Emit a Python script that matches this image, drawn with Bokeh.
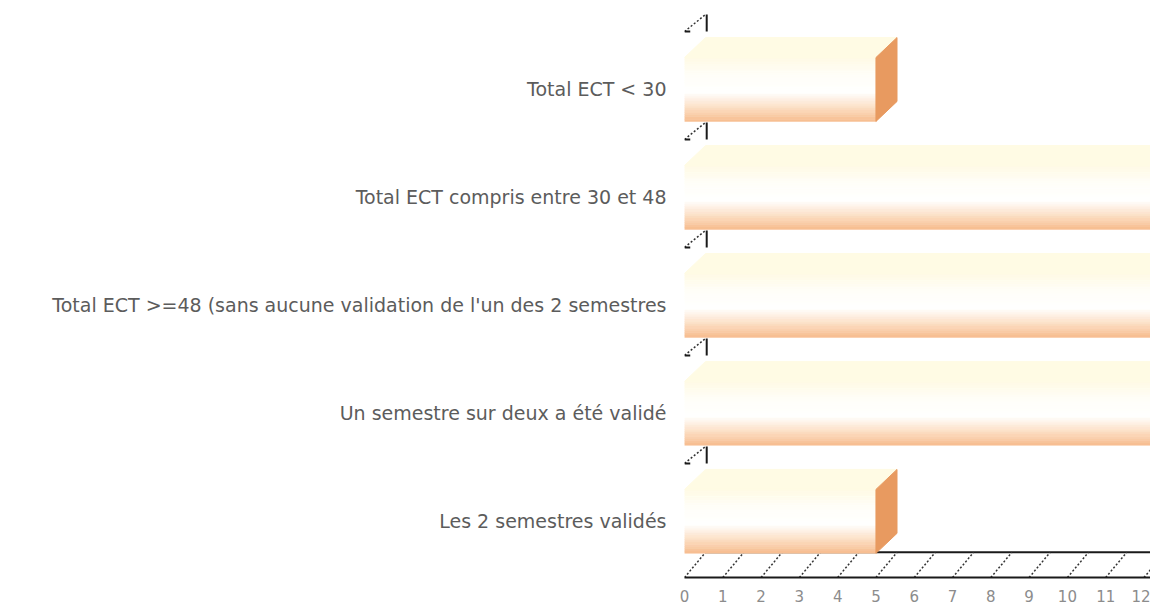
from bokeh.plotting import figure
from bokeh.models import FixedTicker
from bokeh.embed import file_html
from bokeh.resources import INLINE

# ---- data ----
categories = [
    "Les 2 semestres validés",
    "Un semestre sur deux a été validé",
    "Total ECT >=48 (sans aucune validation de l'un des 2 semestres",
    "Total ECT compris entre 30 et 48",
    "Total ECT < 30",
]
values = [5, 13, 13, 13, 5]
x_ticks = list(range(13))

# ---- style constants ----
HALF = 0.296      # half height of the bar front face (category units)
DX = 0.55         # 3D depth offset in x (value units)
DY = 0.185        # 3D depth offset in y (category units)
FLOOR_DY = 0.233
N_BANDS = 28
stops = [(0.0, (255, 250, 228)), (0.28, (255, 254, 248)), (0.55, (255, 255, 255)),
         (0.78, (252, 224, 198)), (1.0, (247, 188, 142))]


def grad(t):
    for (t0, c0), (t1, c1) in zip(stops[:-1], stops[1:]):
        if t0 <= t <= t1:
            f = (t - t0) / (t1 - t0)
            c = [int(round(a + (b - a) * f)) for a, b in zip(c0, c1)]
            return "#%02x%02x%02x" % tuple(c)
    return "#%02x%02x%02x" % stops[-1][1]


ypos = list(range(len(categories)))

p = figure(x_range=(0, 12.17), y_range=(-0.52, 4.75),
           frame_width=466, frame_height=569,
           min_border_left=684, min_border_right=0, min_border_top=8, min_border_bottom=0,
           output_backend="svg", toolbar_location=None)
p.outline_line_color = None
p.grid.visible = False
p.background_fill_color = "white"
p.border_fill_color = "white"

# x axis
p.xaxis.ticker = FixedTicker(ticks=x_ticks)
p.xaxis.major_tick_line_color = None
p.xaxis.minor_tick_line_color = None
p.xaxis.axis_line_color = "#1a1a1a"
p.xaxis.axis_line_width = 2
p.xaxis.major_label_text_font = "DejaVu Sans"
p.xaxis.major_label_text_font_size = "15px"
p.xaxis.major_label_text_color = "#8c8c8c"
p.xaxis.major_label_standoff = 6

# y axis (categories)
p.yaxis.ticker = FixedTicker(ticks=ypos)
p.yaxis.major_label_overrides = {i: c for i, c in zip(ypos, categories)}
p.yaxis.axis_line_color = None
p.yaxis.major_tick_line_color = None
p.yaxis.minor_tick_line_color = None
p.yaxis.major_label_text_font = "DejaVu Sans"
p.yaxis.major_label_text_font_size = "19px"
p.yaxis.major_label_text_color = "#5c5c5c"
p.yaxis.major_label_standoff = 12

# floor: back line and diagonal ticks
y0 = p.y_range.start
p.segment(x0=[x_ticks[0] + DX], y0=[y0 + FLOOR_DY], x1=[x_ticks[-1] + 1], y1=[y0 + FLOOR_DY],
          line_color="#1a1a1a", line_width=2)
p.segment(x0=x_ticks, y0=[y0] * len(x_ticks),
          x1=[t + DX for t in x_ticks], y1=[y0 + FLOOR_DY] * len(x_ticks),
          line_color="#333333", line_width=1.5, line_dash="2 2")

# bars: front face as gradient bands
bl, br, bb, bt, bc = [], [], [], [], []
for y, v in zip(ypos, values):
    for k in range(N_BANDS):
        top = y + HALF - 2 * HALF * k / N_BANDS
        bot = y + HALF - 2 * HALF * (k + 1) / N_BANDS
        bl.append(0)
        br.append(v)
        bt.append(top)
        bb.append(bot)
        bc.append(grad((k + 0.5) / N_BANDS))
p.quad(left=bl, right=br, bottom=bb, top=bt, fill_color=bc, line_color=bc, line_width=0.5)

# top faces
tx, ty = [], []
for y, v in zip(ypos, values):
    tx.append([0, v, v + DX, DX])
    ty.append([y + HALF, y + HALF, y + HALF + DY, y + HALF + DY])
p.patches(tx, ty, fill_color="#fffbe4", line_color="#fffbe4")

# side faces
sx, sy = [], []
for y, v in zip(ypos, values):
    sx.append([v, v + DX, v + DX, v])
    sy.append([y - HALF, y - HALF + DY, y + HALF + DY, y + HALF])
p.patches(sx, sy, fill_color="#e89a60", line_color="#e89a60")

# small 3D axis markers above each bar
mb = [y + 0.537 for y in ypos]
mt = [y + 0.694 for y in ypos]
p.segment(x0=[0] * len(ypos), y0=mb, x1=[DX] * len(ypos), y1=mt,
          line_color="#333333", line_width=1.5, line_dash="2 2")
p.segment(x0=[DX + 0.03] * len(ypos), y0=mb, x1=[DX + 0.03] * len(ypos), y1=mt,
          line_color="#1a1a1a", line_width=2)
p.segment(x0=[0] * len(ypos), y0=mb, x1=[0.15] * len(ypos), y1=mb,
          line_color="#1a1a1a", line_width=2)

open("out.html", "w").write(file_html(p, INLINE))
